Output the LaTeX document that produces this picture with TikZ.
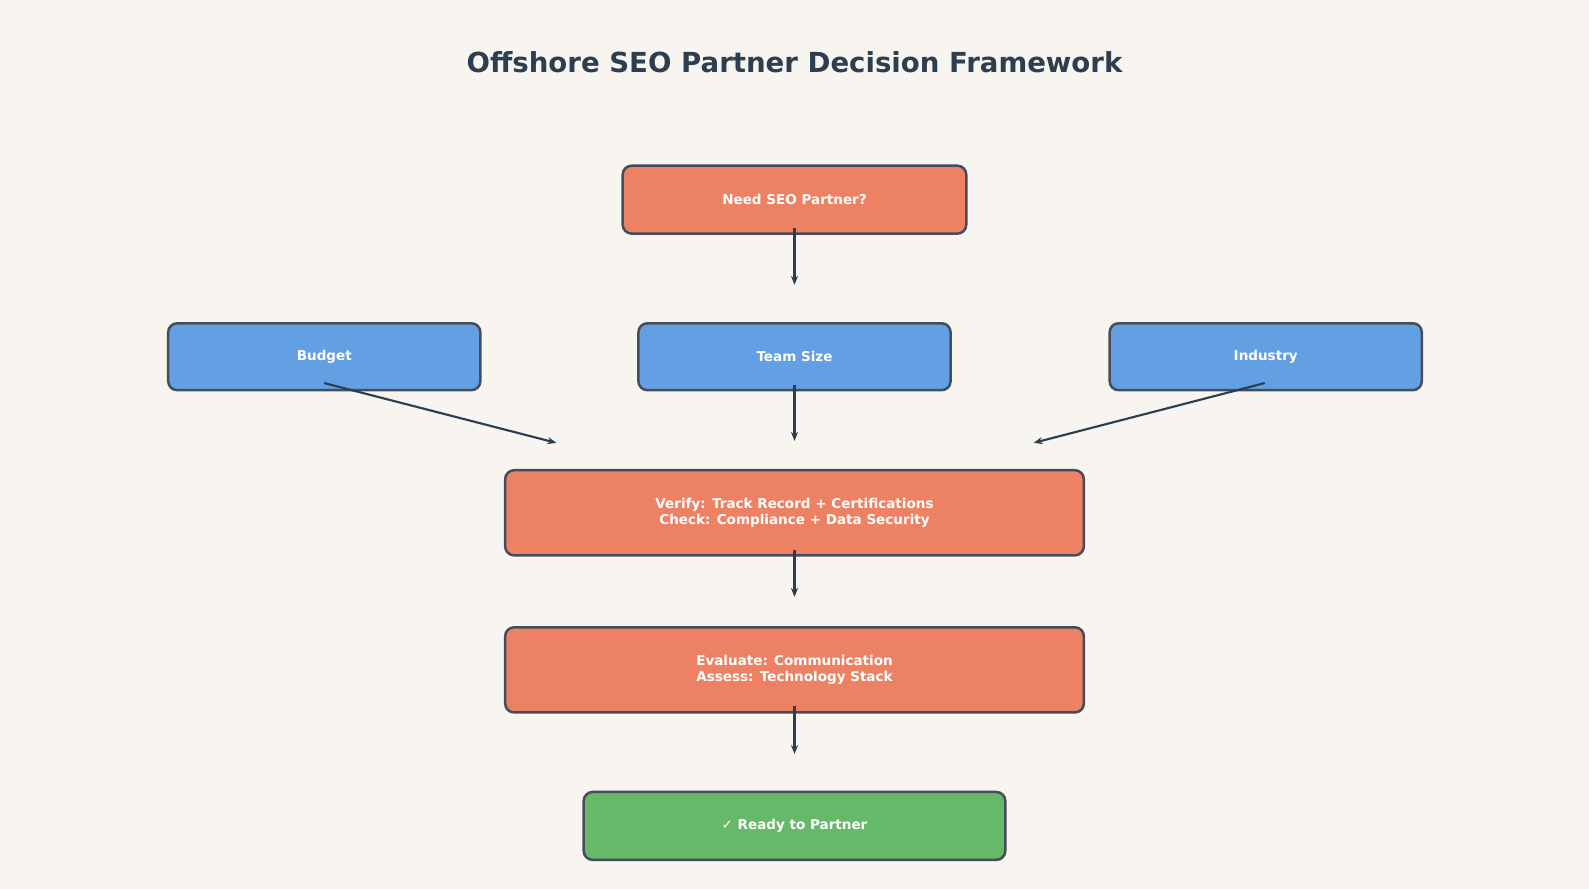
\documentclass[tikz,border=0pt]{standalone}
\usepackage{fontspec}
\setmainfont{DejaVu Sans}
\usetikzlibrary{arrows.meta}
\definecolor{bgcol}{HTML}{F8F5F0}
\definecolor{stepcol}{HTML}{EC8263}
\definecolor{factcol}{HTML}{629FE3}
\definecolor{okcol}{HTML}{66B968}
\definecolor{edgecol}{HTML}{444E5A}
\definecolor{arrcol}{HTML}{2C3E50}
\begin{document}
\begin{tikzpicture}[x=0.02cm,y=-0.02cm,>={Stealth[length=5pt,width=4pt]},
    box/.style={draw=edgecol,line width=1.4pt,rounded corners=5pt,text=white,
      font=\fontsize{7.6}{9}\selectfont\bfseries,align=center,inner sep=0pt},
    arr/.style={->,draw=arrcol,line width=1.2pt}]
    \fill[bgcol] (0,0) rectangle (1568,877);
    \useasboundingbox (0,0) rectangle (1568,877);
    \node[text=arrcol,font=\fontsize{15.5}{18}\selectfont\bfseries] (title) at (784,61) {Offshore SEO Partner Decision Framework};
    \node[box,fill=stepcol,minimum width=339*0.02cm,minimum height=67*0.02cm] (need) at (784,197) {Need SEO Partner?};
    \node[box,fill=factcol,minimum width=308*0.02cm,minimum height=66*0.02cm] (budget) at (320,352) {Budget};
    \node[box,fill=factcol,minimum width=308*0.02cm,minimum height=66*0.02cm] (team) at (784,352) {Team Size};
    \node[box,fill=factcol,minimum width=308*0.02cm,minimum height=66*0.02cm] (industry) at (1249,352) {Industry};
    \node[box,fill=stepcol,minimum width=571*0.02cm,minimum height=84*0.02cm] (verify) at (784,506) {Verify: Track Record + Certifications\\Check: Compliance + Data Security};
    \node[box,fill=stepcol,minimum width=571*0.02cm,minimum height=84*0.02cm] (eval) at (784,661) {Evaluate: Communication\\Assess: Technology Stack};
    \node[box,fill=okcol,minimum width=416*0.02cm,minimum height=67*0.02cm] (ready) at (784,815) {✓ Ready to Partner};
    % arrow ends
    \coordinate (needS) at (784,225);
    \coordinate (needE) at (784,281);
    \coordinate (budS) at (320,378);
    \coordinate (budE) at (549,437);
    \coordinate (teamS) at (784,380);
    \coordinate (teamE) at (784,435);
    \coordinate (indS) at (1248,378);
    \coordinate (indE) at (1020,437);
    \coordinate (verS) at (784,543);
    \coordinate (verE) at (784,589);
    \coordinate (evS) at (784,697);
    \coordinate (evE) at (784,744);
    \draw[arr] (needS) -- (needE);
    \draw[arr] (budS) -- (budE);
    \draw[arr] (teamS) -- (teamE);
    \draw[arr] (indS) -- (indE);
    \draw[arr] (verS) -- (verE);
    \draw[arr] (evS) -- (evE);
\end{tikzpicture}
\end{document}
